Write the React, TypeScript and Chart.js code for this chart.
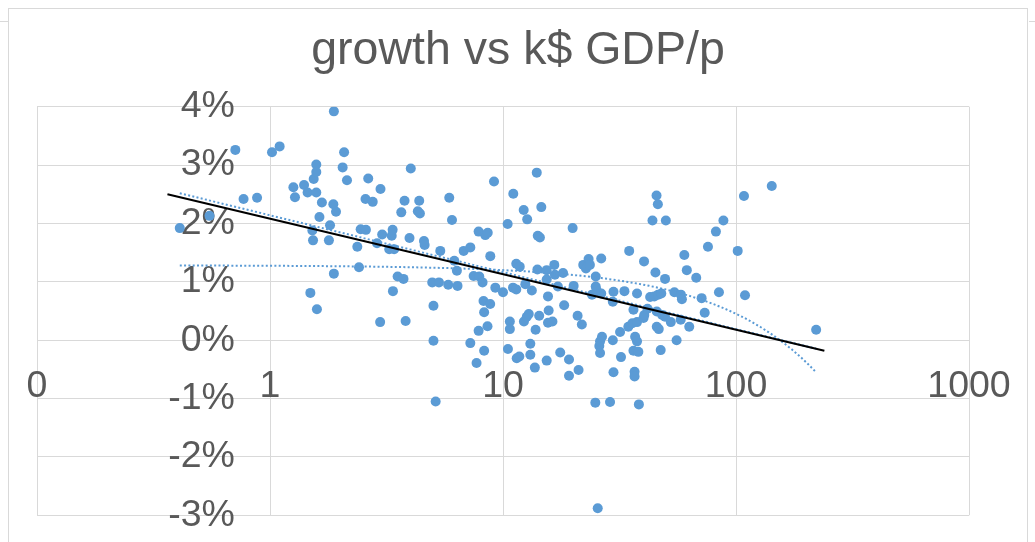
import React, { useEffect, useRef } from 'react';
import { Chart, registerables } from 'chart.js';

Chart.register(...registerables);

const TITLE = 'growth vs k$ GDP/p';
const X_TICKS = [0.1, 1, 10, 100, 1000];
const Y_TICKS = [-3, -2, -1, 0, 1, 2, 3, 4];
const Y_AXIS_CROSS = 0.707; // k$ value where the vertical axis (its labels) sits

// k$ GDP per person
const gdp = [
  0.41, 0.55, 0.71, 0.77, 0.88, 1.02, 1.10, 1.26, 1.28, 1.40,
  1.45, 1.49, 1.52, 1.53, 1.54, 1.58, 1.58, 1.58, 1.59, 1.63,
  1.67, 1.79, 1.81, 1.87, 1.88, 1.88, 1.92, 2.05, 2.08, 2.14,
  2.37, 2.41, 2.45, 2.57, 2.58, 2.64, 2.76, 2.88, 2.97, 2.98,
  3.03, 3.25, 3.33, 3.36, 3.37, 3.41, 3.53, 3.66, 3.74, 3.78,
  3.82, 3.97, 4.02, 4.31, 4.37, 4.40, 4.58, 4.61, 4.97, 5.03,
  5.03, 5.14, 5.31, 5.38, 5.82, 5.88, 6.04, 6.18, 6.34, 6.38,
  6.78, 7.24, 7.24, 7.48, 7.70, 7.86, 7.86, 7.91, 8.17, 8.25,
  8.30, 8.30, 8.39, 8.58, 8.60, 8.81, 8.82, 9.15, 9.27, 10.0,
  10.47, 10.5, 10.7, 10.7, 11.04, 11.07, 11.4, 11.4, 11.45, 11.75,
  11.8, 12.27, 12.3, 12.47, 12.65, 12.7, 12.9, 13.1, 13.1, 13.3,
  13.7, 13.8, 13.96, 14.05, 14.1, 14.3, 14.4, 14.6, 15.4, 15.4,
  15.4, 15.6, 15.6, 15.7, 16.3, 16.6, 16.7, 17.2, 17.6, 18.1,
  18.3, 19.2, 19.2, 19.9, 20.1, 20.9, 21.1, 21.8, 22.1, 22.7,
  23.3, 23.6, 24.1, 24.9, 25.0, 25.0, 25.2, 25.5, 25.9, 26.1,
  26.1, 26.4, 26.4, 26.6, 28.8, 29.6, 29.6, 29.8, 29.8, 31.8,
  32.1, 33.2, 34.5, 34.8, 35.9, 36.3, 36.3, 36.7, 36.7, 36.9,
  37.6, 37.6, 37.6, 38.1, 38.3, 40.1, 40.3, 40.4, 41.7, 42.8,
  43.8, 44.6, 45.1, 45.6, 45.7, 45.7, 46.2, 46.3, 46.6, 47.5,
  47.8, 48.2, 49.6, 49.6, 50.0, 52.5, 54.4, 55.6, 57.9, 58.0,
  58.6, 60.0, 61.5, 63.0, 67.5, 71.2, 73.4, 75.8, 82.0, 84.5,
  88.3, 101.7, 108.2, 109.3, 142.4, 220.8,
];

// growth, %
const growth = [
  1.92, 2.13, 3.26, 2.42, 2.44, 3.22, 3.32, 2.62, 2.45, 2.66,
  2.53, 0.81, 1.88, 1.71, 2.76, 2.53, 3.01, 2.88, 0.53, 2.11,
  2.36, 1.71, 1.97, 2.33, 3.92, 1.14, 2.20, 2.96, 3.22, 2.74,
  1.60, 1.25, 1.90, 2.42, 1.89, 2.77, 2.37, 1.66, 0.31, 2.59,
  1.81, 1.56, 1.79, 1.89, 0.84, 1.56, 1.09, 2.19, 1.05, 2.39,
  0.33, 1.75, 2.94, 2.21, 2.39, 2.17, 1.70, 1.63, 0.99, 0.59,
  -0.01, -1.05, 0.99, 1.53, 0.95, 2.44, 2.06, 1.36, 1.19, 0.93,
  1.53, 1.59, -0.05, 1.10, -0.39, 1.86, 0.16, 1.09, 0.99, 0.67,
  0.48, -0.18, 1.80, 0.24, 1.84, 0.62, 1.44, 2.72, 0.90, 0.82,
  1.99, -0.15, 0.32, 0.19, 0.90, 2.51, 0.87, 1.31, -0.31, -0.28,
  1.26, 2.23, 0.32, 0.96, 0.40, 2.07, 0.45, -0.06, -0.25, 0.85,
  -0.47, 0.18, 2.87, 1.21, 1.79, 0.42, 1.76, 2.28, 1.20, -0.35,
  1.04, 0.30, 0.75, 0.51, 0.32, 1.29, 1.12, 0.92, -0.21, 1.15,
  0.60, -0.33, -0.61, 1.92, 0.93, 0.42, -0.51, 0.27, 1.29, 1.23,
  1.39, 1.29, 0.78, -1.07, 1.09, 0.92, 0.86, -2.88, -0.10, -0.02,
  -0.22, 1.40, 0.80, 0.06, -1.06, 0.66, 0.00, 0.83, -0.55, 0.14,
  -0.29, 0.84, 0.23, 1.53, 0.29, 0.52, -0.18, -0.54, -0.62, 0.06,
  0.80, 0.31, -0.02, -0.20, -1.10, 0.38, 1.35, 0.43, 0.54, 0.74,
  2.05, 0.75, 1.16, 2.48, 0.49, 0.23, 2.33, 0.78, 0.19, -0.17,
  0.80, 0.43, 1.05, 0.40, 2.05, 0.31, 0.82, 0.00, 0.35, 0.78,
  0.70, 1.46, 1.20, 0.23, 1.07, 0.72, 0.47, 1.60, 1.86, 0.82,
  2.05, 1.53, 2.47, 0.77, 2.64, 0.18,
];

// solid black line (end points)
const lineGdp = [0.363, 239.5];
const lineGrowth = [2.5, -0.18];

// dotted trendlines
const LOG_TREND_SLOPE = -0.975; // % per decade
const LOG_TREND_INTERCEPT = 2.14;
const LIN_TREND_SLOPE = -0.0083; // % per k$
const LIN_TREND_INTERCEPT = 1.283;

const BLUE = '#5B9BD5';
const TEXT = '#595959';
const GRID = '#D9D9D9';
const FONT = '"Liberation Sans", Arial, sans-serif';

const titlePlugin = {
  id: 'titleText',
  afterDraw(chart: any) {
    const ctx = chart.ctx;
    ctx.save();
    ctx.font = `46.5px ${FONT}`;
    ctx.fillStyle = TEXT;
    ctx.textAlign = 'center';
    ctx.textBaseline = 'alphabetic';
    ctx.fillText(TITLE, 518, 64);
    ctx.restore();
  },
};

export default function App() {
  const ref = useRef<HTMLCanvasElement>(null);

  useEffect(() => {
    const canvas = ref.current;
    if (!canvas) return;
    const minX = Math.min(...gdp);
    const maxX = Math.max(...gdp);
    const logLine = [minX, maxX].map((x) => ({
      x,
      y: LOG_TREND_SLOPE * Math.log10(x) + LOG_TREND_INTERCEPT,
    }));
    const steps = 80;
    const linLine = Array.from({ length: steps + 1 }, (_, i) => {
      const x = minX * Math.pow(maxX / minX, i / steps);
      return { x, y: LIN_TREND_SLOPE * x + LIN_TREND_INTERCEPT };
    });

    const chart = new Chart(canvas, {
      type: 'scatter',
      data: {
        datasets: [
          {
            label: 'line',
            data: lineGdp.map((x, i) => ({ x, y: lineGrowth[i] })),
            showLine: true,
            borderColor: '#000000',
            borderWidth: 2,
            pointRadius: 0,
            order: 0,
          } as any,
          {
            label: 'log trend',
            data: logLine,
            showLine: true,
            borderColor: BLUE,
            borderWidth: 2,
            borderDash: [2, 2.3],
            pointRadius: 0,
            order: 1,
          },
          {
            label: 'linear trend',
            data: linLine,
            showLine: true,
            borderColor: BLUE,
            borderWidth: 2,
            borderDash: [2, 2.3],
            pointRadius: 0,
            order: 2,
          },
          {
            label: 'growth',
            data: gdp.map((x, i) => ({ x, y: growth[i] })),
            backgroundColor: BLUE,
            borderColor: BLUE,
            borderWidth: 0,
            pointRadius: 5,
            order: 3,
          },
        ],
      },
      options: {
        responsive: false,
        animation: false,
        layout: { padding: { left: 37, right: 66, top: 106.7, bottom: 26.7 } },
        plugins: {
          legend: { display: false },
          tooltip: { enabled: false },
          title: { display: false },
        },
        scales: {
          x: {
            type: 'logarithmic',
            min: 0.1,
            max: 1000,
            position: { y: 0 } as any,
            afterBuildTicks: (s: any) => {
              s.ticks = X_TICKS.map((v) => ({ value: v }));
            },
            ticks: {
              callback: (v: any) => String(Math.round(Number(v))),
              color: TEXT,
              font: { family: FONT, size: 37.5 },
              padding: 24,
              maxRotation: 0,
              autoSkip: false,
            },
            grid: { color: GRID, lineWidth: 1, drawTicks: false },
            border: { display: false },
          },
          y: {
            type: 'linear',
            min: -3,
            max: 4,
            position: { x: Y_AXIS_CROSS } as any,
            afterBuildTicks: (s: any) => {
              s.ticks = Y_TICKS.map((v) => ({ value: v }));
            },
            ticks: {
              callback: (v: any) => `${v}%`,
              color: TEXT,
              font: { family: FONT, size: 37.5 },
              padding: 0,
            },
            grid: { color: GRID, lineWidth: 1, drawTicks: false },
            border: { display: false },
          },
        },
      },
      plugins: [titlePlugin],
    });
    return () => chart.destroy();
  }, []);

  return (
    <div style={{ position: 'fixed', left: 0, top: 0, width: 1035, height: 542, background: '#fff', overflow: 'hidden' }}>
      <div style={{ position: 'absolute', left: 8, top: 8, width: 1020, height: 600, border: '1px solid #D9D9D9', boxSizing: 'border-box' }} />
      <div style={{ position: 'absolute', left: 0, top: 21, width: 8, height: 1, background: '#D9D9D9' }} />
      <div style={{ position: 'absolute', left: 1029, top: 21, width: 6, height: 1, background: '#D9D9D9' }} />
      <canvas ref={ref} width={1035} height={542} style={{ position: 'absolute', left: 0, top: 0, display: 'block' }} />
    </div>
  );
}
